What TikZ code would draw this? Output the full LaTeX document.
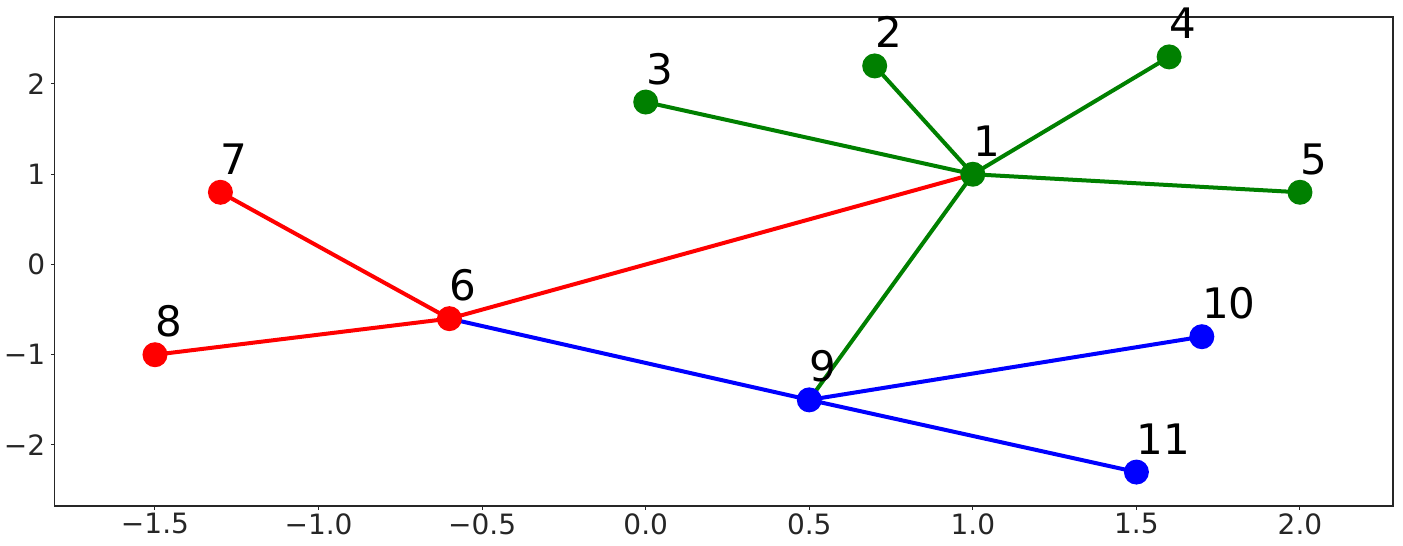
\documentclass[tikz,border=0pt]{standalone}
\usepackage{fontspec}
\setmainfont{DejaVu Sans}
\definecolor{verde}{RGB}{0,128,0}
\tikzset{
  arista/.style={line width=2pt},
  vertice/.style={circle, inner sep=0pt, minimum size=12.5pt},
  etiqueta/.style={anchor=base west, inner sep=0pt, font=\fontsize{21}{21}\selectfont},
  marca/.style={inner sep=0pt, font=\fontsize{14}{14}\selectfont}
}
\begin{document}
\begin{tikzpicture}[x=163.57pt, y=45.125pt]
    \useasboundingbox (-1.9738,-3.119) rectangle (2.3149,2.9307);

    % Ejes
    \draw[line width=0.6pt, black!85] (-1.808,-2.676) rectangle (2.284,2.742);
    \foreach \x/\t in {-1.5/−1.5, -1.0/−1.0, -0.5/−0.5, 0.0/0.0, 0.5/0.5, 1.0/1.0, 1.5/1.5, 2.0/2.0}
        \draw[line width=0.5pt, black!85] (\x,-2.676) -- ++(0,-1.75pt)
            node[marca, anchor=north, yshift=-1.75pt] {\t};
    \foreach \y/\t in {-2/−2, -1/−1, 0/0, 1/1, 2/2}
        \draw[line width=0.5pt, black!85] (-1.808,\y) -- ++(-1.75pt,0)
            node[marca, anchor=east, xshift=-2.5pt] {\t};

    % Posiciones
    \coordinate (n1) at (1,1);
    \coordinate (n2) at (0.7,2.2);
    \coordinate (n3) at (0,1.8);
    \coordinate (n4) at (1.6,2.3);
    \coordinate (n5) at (2,0.8);
    \coordinate (n6) at (-0.6,-0.6);
    \coordinate (n7) at (-1.3,0.8);
    \coordinate (n8) at (-1.5,-1);
    \coordinate (n9) at (0.5,-1.5);
    \coordinate (n10) at (1.7,-0.8);
    \coordinate (n11) at (1.5,-2.3);

    % Aristas
    \foreach \a/\b in {1/2, 1/3, 1/4, 1/5, 1/9}
        \draw[arista, verde] (n\a) -- (n\b);
    \foreach \a/\b in {6/7, 6/8, 6/1}
        \draw[arista, red] (n\a) -- (n\b);
    \foreach \a/\b in {6/9, 9/10, 9/11}
        \draw[arista, blue] (n\a) -- (n\b);

    % Vértices
    \foreach \n/\c in {1/verde, 2/verde, 3/verde, 4/verde, 5/verde, 6/red, 7/red, 8/red, 9/blue, 10/blue, 11/blue} {
        \node[vertice, fill=\c] (v\n) at (n\n) {};
        \node[etiqueta] (e\n) at ([yshift=9pt]n\n) {\n};
    }
\end{tikzpicture}
\end{document}
